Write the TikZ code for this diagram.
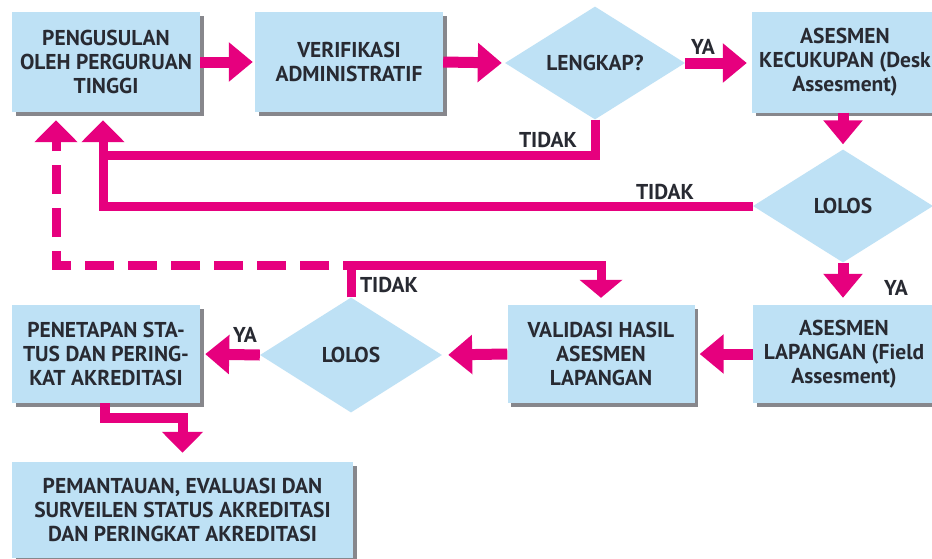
\documentclass[tikz,border=0pt]{standalone}
\usepackage{fontspec}
\setmainfont{PT Sans}
\usetikzlibrary{arrows.meta,shapes.geometric,shadows}
\definecolor{mag}{RGB}{230,0,126}
\definecolor{boxblue}{RGB}{190,225,245}
\definecolor{txt}{RGB}{40,42,50}
\definecolor{shade}{RGB}{135,135,140}
\tikzset{
  lbltext/.style={text=txt,font=\bfseries\fontsize{21.5}{24}\selectfont},
  box/.style={rectangle,fill=boxblue,align=center,inner sep=0pt,lbltext,
    minimum width=188pt,minimum height=100pt,
    drop shadow={shadow xshift=3.5pt,shadow yshift=-3.5pt,fill=shade,opacity=1}},
  dia/.style={diamond,fill=boxblue,inner sep=0pt,lbltext,align=center},
  lbl/.style={inner sep=0pt,lbltext},
  big/.style={draw=mag,line width=11pt,-{Triangle[width=38pt,length=24pt]}},
  tline/.style={draw=mag,line width=9pt},
  uptip/.style={-{Triangle[width=42pt,length=22pt]}},
  dline/.style={draw=mag,line width=9pt,dash pattern=on 29pt off 14pt,dash phase=21pt},
}
\begin{document}
\begin{tikzpicture}[x=1pt,y=-1pt]
\useasboundingbox (0,0) rectangle (932,558);
\clip (0,0) rectangle (932,558);
\fill[white] (0,0) rectangle (932,558);
% nodes
\node[box] (b1) at (106,62) {PENGUSULAN\\OLEH PERGURUAN\\TINGGI};
\node[box] (b2) at (349,62) {VERIFIKASI\\ADMINISTRATIF};
\node[dia,minimum width=180pt,minimum height=111pt] (d1) at (595,63) {LENGKAP?};
\node[box,minimum width=186pt,minimum height=101pt] (b3) at (845,62) {ASESMEN\\KECUKUPAN (Desk\\Assesment)};
\node[dia,minimum width=180pt,minimum height=113pt] (d2) at (843,206) {LOLOS};
\node[box,minimum width=182pt,minimum height=98pt] (b4) at (844,354) {ASESMEN\\LAPANGAN (Field\\Assesment)};
\node[box,minimum width=187pt,minimum height=98pt] (b5) at (601,354) {VALIDASI HASIL\\ASESMEN\\LAPANGAN};
\node[dia,minimum width=182pt,minimum height=115pt] (d3) at (351,355) {LOLOS};
\node[box,minimum height=98pt] (b6) at (106,354) {PENETAPAN STA-\\TUS DAN PERING-\\KAT AKREDITASI};
\node[box,minimum width=341pt,minimum height=96pt] (b7) at (182.5,510) {PEMANTAUAN, EVALUASI DAN\\SURVEILEN STATUS AKREDITASI\\DAN PERINGKAT AKREDITASI};
% labels
\node[lbl] (t1) at (548,140) {TIDAK};
\node[lbl] (t2) at (665,192) {TIDAK};
\node[lbl] (t3) at (389,285) {TIDAK};
\node[lbl] (y1) at (703,47) {YA};
\node[lbl] (y2) at (896,288) {YA};
\node[lbl] (y3) at (245,335) {YA};
% coordinates
\coordinate (j1) at (103,155);
\coordinate (k) at (351,265);
% main arrows
\draw[big,shorten >=2pt] (b1.east) -- (b2.west);
\draw[big,shorten >=3pt] (b2.east) -- (d1.west);
\draw[big,shorten >=5pt] (d1.east) -- (d1.east -| b3.west);
\draw[big,shorten >=5pt] (b3.south -| d2.north) -- (d2.north);
\draw[big,shorten >=7pt] (d2.south) -- (d2.south |- b4.north);
\draw[big,shorten >=5pt] (b4.west) -- (b5.east);
\draw[big,shorten >=6pt] (b5.west) -- (d3.east);
\draw[big,shorten >=5pt] (d3.west) -- (b6.east);
% TIDAK returns
\draw[tline] (d1.south) |- (j1);
\draw[tline,uptip,shorten >=8pt] (d2.west) -| ([xshift=-3pt]b1.south);
\draw[tline,-{Triangle[width=42pt,length=18pt]},shorten >=7pt] (d3.north) -- (k) -| (b5.north);
\draw[dline,uptip,shorten >=8pt] (k) -| ([xshift=-50pt]b1.south);
% to final box
\draw[draw=mag,line width=10pt,-{Triangle[width=40pt,length=21pt]},shorten >=9pt]
  ([xshift=-1pt]b6.south) -- ++(0,15) -| (b7.north);
\end{tikzpicture}
\end{document}
